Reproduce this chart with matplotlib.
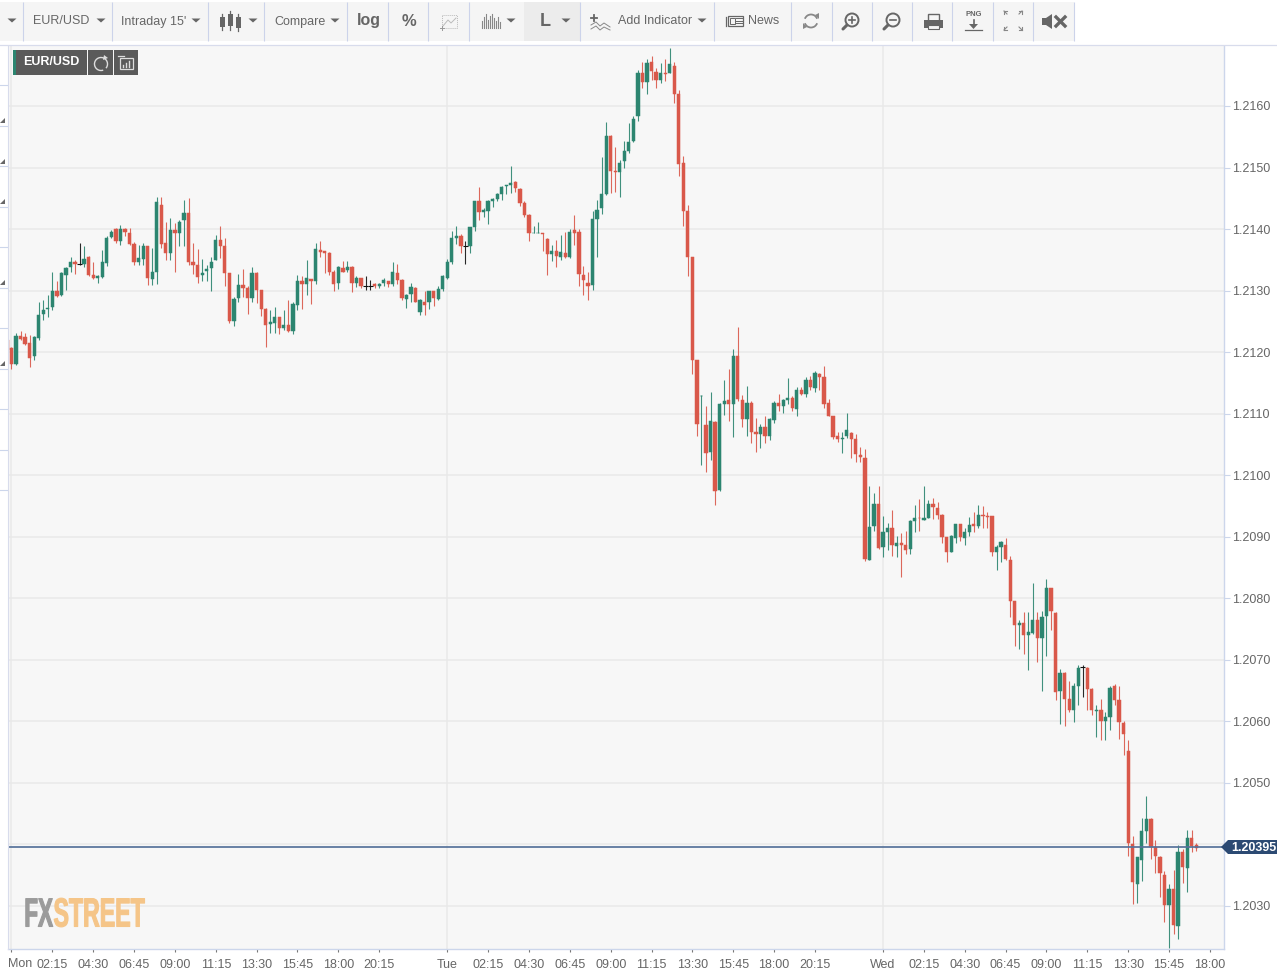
import numpy as np
import matplotlib
matplotlib.use("Agg")
import matplotlib.pyplot as plt
import matplotlib.patheffects as pe
from matplotlib.patches import Rectangle, Polygon, Circle, Arc
from matplotlib.transforms import Affine2D

plt.rcParams['font.family'] = ['Liberation Sans', 'DejaVu Sans']

# ---------- data: 15-minute EUR/USD candles ----------
highs = [
1.21226,1.21209,1.21231,1.21235,1.21231,1.21228,1.21226,1.21281,1.21285,1.21293,
1.21331,1.21315,1.21331,1.21339,1.21354,1.21350,1.21378,1.21372,1.21357,1.21347,
1.21325,1.21366,1.21389,1.21399,1.21402,1.21406,1.21402,1.21401,1.21379,1.21374,
1.21378,1.21372,1.21369,1.21452,1.21452,1.21412,1.21418,1.21410,1.21415,1.21448,
1.21450,1.21377,1.21367,1.21351,1.21342,1.21355,1.21391,1.21405,1.21386,1.21329,
1.21290,1.21327,1.21335,1.21308,1.21339,1.21331,1.21301,1.21272,1.21269,1.21273,
1.21257,1.21269,1.21285,1.21281,1.21326,1.21324,1.21349,1.21319,1.21377,1.21381,
1.21365,1.21362,1.21333,1.21340,1.21348,1.21348,1.21340,1.21323,1.21321,1.21323,
1.21317,1.21312,1.21312,1.21320,1.21316,1.21346,1.21344,1.21319,1.21294,1.21313,
1.21306,1.21286,1.21300,1.21300,1.21300,1.21307,1.21326,1.21351,1.21397,1.21405,
1.21392,1.21381,1.21404,1.21446,1.21469,1.21435,1.21447,1.21450,1.21458,1.21470,
1.21471,1.21503,1.21478,1.21466,1.21445,1.21425,1.21405,1.21411,1.21394,1.21385,
1.21374,1.21383,1.21390,1.21396,1.21400,1.21423,1.21400,1.21340,1.21330,1.21430,
1.21447,1.21517,1.21574,1.21553,1.21534,1.21513,1.21543,1.21573,1.21584,1.21659,
1.21672,1.21676,1.21681,1.21661,1.21670,1.21676,1.21695,1.21672,1.21626,1.21519,
1.21439,1.21354,1.21188,1.21131,1.21112,1.21135,1.21088,1.21117,1.21154,1.21172,
1.21205,1.21241,1.21131,1.21145,1.21120,1.21093,1.21084,1.21096,1.21093,1.21120,
1.21132,1.21124,1.21158,1.21128,1.21144,1.21144,1.21159,1.21161,1.21169,1.21166,
1.21178,1.21124,1.21097,1.21070,1.21070,1.21101,1.21071,1.21067,
1.21046,1.21043,1.20983,1.20971,1.20983,1.20933,1.20923,1.20943,1.20902,1.20906,
1.20910,1.20927,1.20952,1.20961,1.20983,1.20959,1.20963,1.20956,1.20937,1.20899,
1.20903,1.20921,1.20921,1.20914,1.20932,1.20941,1.20952,1.20950,1.20940,1.20934,
1.20886,1.20893,1.20898,1.20868,1.20796,1.20764,1.20778,1.20778,1.20825,1.20778,
1.20780,1.20832,1.20817,1.20778,
1.20685,1.20680,1.20665,1.20662,1.20692,1.20692,1.20688,1.20655,1.20626,1.20637,
1.20615,1.20658,1.20660,1.20658,1.20600,1.20569,1.20413,1.20380,1.20443,1.20478,
1.20443,1.20407,1.20382,1.20357,1.20335,1.20358,1.20399,1.20393,1.20423,1.20423,1.20402]

body_tops = [
1.21220,1.21207,1.21226,1.21226,1.21225,1.21215,1.21225,1.21261,1.21268,1.21272,
1.21300,1.21300,1.21328,1.21336,1.21347,1.21347,1.21343,1.21351,1.21354,1.21326,
1.21323,1.21346,1.21386,1.21396,1.21400,1.21400,1.21400,1.21393,1.21376,1.21353,
1.21372,1.21372,1.21331,1.21444,1.21439,1.21377,1.21399,1.21399,1.21412,1.21426,
1.21426,1.21346,1.21342,1.21329,1.21335,1.21347,1.21382,1.21382,1.21372,1.21328,
1.21286,1.21309,1.21309,1.21304,1.21329,1.21328,1.21301,1.21270,1.21249,1.21257,
1.21257,1.21244,1.21244,1.21279,1.21315,1.21315,1.21320,1.21319,1.21367,1.21366,
1.21364,1.21361,1.21331,1.21338,1.21337,1.21339,1.21339,1.21320,1.21320,1.21308,
1.21308,1.21311,1.21310,1.21317,1.21315,1.21330,1.21328,1.21317,1.21293,1.21306,
1.21304,1.21285,1.21282,1.21299,1.21299,1.21302,1.21323,1.21346,1.21385,1.21389,
1.21388,1.21372,1.21404,1.21445,1.21445,1.21431,1.21445,1.21449,1.21457,1.21469,
1.21471,1.21475,1.21477,1.21465,1.21443,1.21423,1.21394,1.21394,1.21393,1.21384,
1.21364,1.21364,1.21362,1.21361,1.21396,1.21399,1.21396,1.21326,1.21312,1.21417,
1.21431,1.21457,1.21551,1.21551,1.21494,1.21508,1.21527,1.21541,1.21579,1.21654,
1.21654,1.21670,1.21672,1.21656,1.21654,1.21654,1.21668,1.21665,1.21619,1.21508,
1.21429,1.21354,1.21188,1.21129,1.21082,1.21088,1.21087,1.21115,1.21120,1.21122,
1.21194,1.21194,1.21123,1.21117,1.21117,1.21070,1.21079,1.21079,1.21091,1.21118,
1.21117,1.21123,1.21125,1.21125,1.21139,1.21139,1.21154,1.21155,1.21166,1.21164,
1.21159,1.21117,1.21097,1.21063,1.21060,1.21074,1.21069,1.21059,
1.21033,1.21028,1.20916,1.20953,1.20953,1.20907,1.20914,1.20914,1.20890,1.20890,
1.20886,1.20926,1.20931,1.20931,1.20931,1.20953,1.20953,1.20946,1.20936,1.20899,
1.20901,1.20921,1.20921,1.20907,1.20919,1.20921,1.20936,1.20936,1.20934,1.20933,
1.20884,1.20891,1.20886,1.20862,1.20795,1.20760,1.20760,1.20745,1.20764,1.20764,
1.20769,1.20817,1.20817,1.20776,
1.20678,1.20678,1.20637,1.20658,1.20687,1.20689,1.20686,1.20653,1.20619,1.20619,
1.20607,1.20655,1.20658,1.20634,1.20598,1.20552,1.20401,1.20379,1.20422,1.20441,
1.20442,1.20396,1.20379,1.20351,1.20328,1.20328,1.20388,1.20388,1.20411,1.20411,1.20399]

body_bottoms = [
1.21204,1.21180,1.21181,1.21221,1.21214,1.21190,1.21194,1.21223,1.21262,1.21270,
1.21273,1.21292,1.21293,1.21326,1.21338,1.21344,1.21343,1.21344,1.21326,1.21320,
1.21320,1.21322,1.21345,1.21387,1.21381,1.21381,1.21396,1.21376,1.21347,1.21347,
1.21352,1.21320,1.21319,1.21331,1.21375,1.21361,1.21361,1.21394,1.21393,1.21414,
1.21346,1.21341,1.21322,1.21326,1.21332,1.21336,1.21350,1.21372,1.21329,1.21250,
1.21250,1.21288,1.21304,1.21288,1.21288,1.21301,1.21270,1.21244,1.21246,1.21247,
1.21239,1.21239,1.21235,1.21234,1.21277,1.21311,1.21311,1.21315,1.21315,1.21363,
1.21361,1.21330,1.21311,1.21312,1.21330,1.21333,1.21312,1.21313,1.21308,1.21308,
1.21308,1.21307,1.21308,1.21312,1.21311,1.21310,1.21318,1.21288,1.21287,1.21294,
1.21282,1.21265,1.21277,1.21281,1.21288,1.21286,1.21302,1.21321,1.21347,1.21385,
1.21372,1.21372,1.21372,1.21404,1.21427,1.21427,1.21429,1.21446,1.21449,1.21457,
1.21470,1.21471,1.21467,1.21443,1.21423,1.21394,1.21393,1.21393,1.21392,1.21359,
1.21359,1.21356,1.21355,1.21355,1.21355,1.21393,1.21327,1.21317,1.21308,1.21309,
1.21417,1.21434,1.21457,1.21495,1.21493,1.21492,1.21511,1.21527,1.21543,1.21584,
1.21639,1.21639,1.21657,1.21642,1.21643,1.21652,1.21654,1.21619,1.21505,1.21430,
1.21354,1.21188,1.21084,1.21128,1.21036,1.21038,1.20974,1.20976,1.21115,1.21115,
1.21115,1.21124,1.21091,1.21092,1.21070,1.21067,1.21067,1.21063,1.21063,1.21090,
1.21113,1.21113,1.21123,1.21109,1.21108,1.21132,1.21132,1.21143,1.21142,1.21159,
1.21116,1.21097,1.21062,1.21059,1.21059,1.21063,1.21059,1.21034,
1.21029,1.20864,1.20863,1.20918,1.20881,1.20883,1.20908,1.20887,1.20885,1.20887,
1.20879,1.20880,1.20926,1.20930,1.20928,1.20931,1.20949,1.20936,1.20899,1.20876,
1.20875,1.20898,1.20899,1.20898,1.20908,1.20918,1.20918,1.20934,1.20932,1.20876,
1.20876,1.20884,1.20864,1.20796,1.20756,1.20756,1.20741,1.20741,1.20743,1.20736,
1.20736,1.20772,1.20779,1.20648,
1.20649,1.20637,1.20618,1.20619,1.20658,1.20688,1.20653,1.20618,1.20617,1.20600,
1.20600,1.20607,1.20634,1.20599,1.20579,1.20403,1.20339,1.20335,1.20374,1.20422,
1.20396,1.20381,1.20353,1.20301,1.20301,1.20269,1.20268,1.20363,1.20362,1.20397,1.20395]

lows = [
1.21199,1.21173,1.21179,1.21219,1.21212,1.21176,1.21187,1.21220,1.21252,1.21257,
1.21269,1.21289,1.21292,1.21301,1.21331,1.21327,1.21342,1.21339,1.21324,1.21319,
1.21312,1.21320,1.21340,1.21385,1.21378,1.21374,1.21388,1.21374,1.21342,1.21342,
1.21342,1.21309,1.21309,1.21311,1.21369,1.21350,1.21349,1.21331,1.21373,1.21373,
1.21342,1.21327,1.21312,1.21315,1.21315,1.21300,1.21349,1.21353,1.21308,1.21248,
1.21242,1.21282,1.21290,1.21262,1.21282,1.21280,1.21258,1.21209,1.21231,1.21231,
1.21229,1.21236,1.21233,1.21229,1.21269,1.21270,1.21293,1.21279,1.21311,1.21354,
1.21328,1.21326,1.21299,1.21302,1.21330,1.21331,1.21297,1.21306,1.21304,1.21301,
1.21301,1.21304,1.21304,1.21308,1.21306,1.21308,1.21311,1.21285,1.21272,1.21281,
1.21281,1.21260,1.21261,1.21270,1.21275,1.21285,1.21300,1.21319,1.21343,1.21376,
1.21361,1.21344,1.21361,1.21397,1.21414,1.21419,1.21409,1.21436,1.21445,1.21447,
1.21457,1.21458,1.21460,1.21438,1.21420,1.21381,1.21393,1.21393,1.21365,1.21326,
1.21348,1.21339,1.21350,1.21353,1.21353,1.21374,1.21308,1.21293,1.21285,1.21301,
1.21355,1.21425,1.21455,1.21459,1.21461,1.21452,1.21499,1.21524,1.21542,1.21576,
1.21629,1.21619,1.21643,1.21630,1.21638,1.21641,1.21653,1.21605,1.21486,1.21405,
1.21324,1.21164,1.21063,1.21017,1.21005,1.21025,1.20952,1.20974,1.21098,1.21088,
1.21062,1.21120,1.21079,1.21063,1.21053,1.21037,1.21044,1.21053,1.21058,1.21085,
1.21105,1.21101,1.21115,1.21105,1.21097,1.21131,1.21127,1.21139,1.21135,1.21139,
1.21109,1.21096,1.21059,1.21054,1.21036,1.21061,1.21028,1.21021,
1.21021,1.20861,1.20862,1.20910,1.20880,1.20867,1.20879,1.20868,1.20867,1.20834,
1.20872,1.20872,1.20907,1.20909,1.20928,1.20930,1.20929,1.20929,1.20890,1.20859,
1.20875,1.20890,1.20893,1.20887,1.20901,1.20908,1.20914,1.20914,1.20914,1.20868,
1.20846,1.20859,1.20862,1.20769,1.20723,1.20718,1.20710,1.20684,1.20742,1.20696,
1.20649,1.20707,1.20749,1.20634,
1.20596,1.20593,1.20615,1.20599,1.20626,1.20640,1.20618,1.20611,1.20575,1.20569,
1.20570,1.20586,1.20626,1.20572,1.20545,1.20382,1.20304,1.20305,1.20341,1.20402,
1.20377,1.20353,1.20315,1.20274,1.20231,1.20255,1.20247,1.20337,1.20323,1.20388,1.20389]

# g = up, r = down, k = unchanged (drawn black by the chart)
direction = (
"rrgrrrgggg" "grgggrkgrr" "ggggrgrrrg" "grggrrgrgg" "rrrggggrrr"
"ggrrgrrrgg" "rgrggrgrgr" "rrrgrgrgrk" "krggrgrrgg" "rgrgrggggg"
"rkggrggggg" "ggrrrrggrr" "grgrgrrrrg" "gggrrggggg" "rgrrgrgrrr"
"rrrgrgrggr" "grrgrrgrgg" "rggrgrgrgr" "rrrrggrr"
"rrggrggrgr" "rggrggrrrr" "ggrggrgrrr" "ggrrrgrggr" "ggrr"
"grrggkrrgr" "ggrrrrrggg" "rrrrgrgrgr" "r")

last_price = 1.20395
price_ticks = [1.2030, 1.2040, 1.2050, 1.2060, 1.2070, 1.2080, 1.2090, 1.2100,
               1.2110, 1.2120, 1.2130, 1.2140, 1.2150, 1.2160]
day_bars = [0, 96, 192]
time_bars = [9, 18, 27, 36, 45, 54, 63, 72, 81,
             96, 105, 114, 123, 132, 141, 150, 159, 168, 177,
             192, 201, 210, 219, 228, 237, 246, 255, 264]
time_labels = ["02:15", "04:30", "06:45", "09:00", "11:15", "13:30", "15:45", "18:00", "20:15",
               "Tue", "02:15", "04:30", "06:45", "09:00", "11:15", "13:30", "15:45", "18:00", "20:15",
               "Wed", "02:15", "04:30", "06:45", "09:00", "11:15", "13:30", "15:45", "18:00"]

assert len(highs) == len(lows) == len(body_tops) == len(body_bottoms) == len(direction)

GREEN, RED = "#2c8570", "#d9584a"
TXT = "#666666"
W, H = 1277, 972

fig = plt.figure(figsize=(W / 100, H / 100), dpi=100, facecolor="white")
L, R, T, B = 8, 1223.5, 46, 949
ax = fig.add_axes([L / W, (H - B) / H, (R - L) / W, (B - T) / H], zorder=1)
ax.set_facecolor("#f7f7f7")

bar_x = np.arange(len(highs)) - 1
colours = [{"g": GREEN, "r": RED, "k": "#111111"}[d] for d in direction]
hi, lo = np.array(highs), np.array(lows)
top, bot = np.array(body_tops), np.array(body_bottoms)

ax.set_xlim(-0.77, 267.0)
ax.set_ylim(1.202301, 1.216975)
ax.set_axisbelow(True)
ax.grid(False)
for p in price_ticks:
    ax.axhline(p, color="#e9e9e9", lw=1.1, zorder=0.5)
for d in day_bars:
    ax.axvline(d, color="#e9e9e9", lw=1.1, zorder=0.5)

ax.vlines(bar_x, lo, hi, colors=colours, lw=0.8, alpha=0.9, zorder=2)
is_body = np.array([d != "k" for d in direction])
ax.bar(bar_x[is_body], (top - bot)[is_body], bottom=bot[is_body], width=0.72,
       color=np.array(colours)[is_body], edgecolor=np.array(colours)[is_body], lw=0.35, zorder=3)
ax.hlines(top[~is_body], bar_x[~is_body] - 0.55, bar_x[~is_body] + 0.55, colors="#111111", lw=0.8, zorder=3)

ax.axhline(last_price + 0.000008, color="#56729a", lw=1.25, zorder=4)

ax.yaxis.tick_right()
ax.set_yticks(price_ticks)
ax.set_yticklabels([f"{p:.4f}" for p in price_ticks])
ax.set_xticks([0] + time_bars)
ax.set_xticklabels([""] + time_labels)
ax.tick_params(axis="y", length=4.2, width=0.8, color="#ccd6eb", pad=1.8, labelsize=9, labelcolor=TXT)
ax.tick_params(axis="x", length=2.4, width=0.8, color="#777777", pad=5, labelsize=9, labelcolor=TXT)
ax.spines["top"].set_visible(False)
ax.spines["left"].set_visible(False)
for s in ("right", "bottom"):
    ax.spines[s].set_color("#ccd6eb")
    ax.spines[s].set_linewidth(1.0)

# ---------- interface chrome, drawn in pixel coordinates ----------
ui = fig.add_axes([0, 0, 1, 1], zorder=5)
ui.set_xlim(0, W)
ui.set_ylim(H, 0)
ui.axis("off")
ui.patch.set_alpha(0)

ui.text(8, 963.5, "Mon", fontsize=9, color=TXT, ha="left", va="center")

# current price flag
ui.add_patch(Polygon([(1221, 847), (1228, 840), (1277, 840), (1277, 854), (1228, 854)],
                     closed=True, fc="#2c4a73", ec="none"))
ui.text(1254, 847.5, "1.20395", color="white", fontsize=9, fontweight="bold", ha="center", va="center")

# toolbar
ui.add_patch(Rectangle((0, 2), 1074, 39, fc="#f5f5f5", ec="none"))
ui.add_patch(Rectangle((524, 2), 56, 39, fc="#ececec", ec="none"))
for x in [23, 112, 208, 264, 347, 388, 428, 469, 580, 714, 791, 832, 872, 912, 952, 993, 1033, 1074]:
    ui.plot([x, x], [2, 41], color="#ccd3ea", lw=0.8, solid_capstyle="butt")


def caret(x, y=20.5, w=4.5, h=4):
    ui.add_patch(Polygon([(x - w, y - h / 2), (x + w, y - h / 2), (x, y + h / 2)], closed=True, fc=TXT, ec="none"))


for x in [12, 101, 196, 253, 335, 511, 566, 702]:
    caret(x)

ui.text(33, 21.5, "EUR/USD", fontsize=9, color=TXT, va="center")
ui.text(121, 21.5, "Intraday 15'", fontsize=9, color=TXT, va="center")
ui.text(274, 21.5, "Compare", fontsize=9, color=TXT, va="center")
ui.text(368.5, 21, "log", fontsize=11.5, color=TXT, fontweight="bold", ha="center", va="center")
ui.text(408.5, 21.5, "%", fontsize=12, color=TXT, fontweight="bold", ha="center", va="center")
ui.text(545, 21.5, "L", fontsize=13, color=TXT, fontweight="bold", ha="center", va="center")
ui.text(618, 21.5, "Add Indicator", fontsize=9, color=TXT, va="center")
ui.text(748, 21.5, "News", fontsize=9, color=TXT, va="center")
ui.text(973.5, 15, "PNG", fontsize=5.5, color=TXT, fontweight="bold", ha="center", va="center")

# candle icon
for x, y0, y1, w0, w1 in [(222, 17, 27, 14, 30), (230, 14, 26, 11, 30), (238, 17, 28, 14, 31)]:
    ui.plot([x, x], [w0, w1], color=TXT, lw=0.9)
    ui.add_patch(Rectangle((x - 2.5, y0), 5, y1 - y0, fc=TXT, ec="none"))

# selection icon
ui.add_patch(Rectangle((442, 15), 15, 13, fc="none", ec="#bbbbbb", lw=0.7, ls=(0, (1, 1))))
ui.plot([443, 448, 451, 456], [26, 20, 23, 18], color="#bbbbbb", lw=0.7)
ui.plot([440, 444], [28, 28], color="#999999", lw=0.7)
ui.plot([442, 442], [26, 30], color="#999999", lw=0.7)

# volume-style icon
for x, h_ in zip(range(482, 502, 2), [7, 11, 14, 8, 12, 14, 10, 7, 11, 6]):
    ui.plot([x, x], [28, 28 - h_], color="#888888", lw=0.8)

# add indicator icon
ui.plot([591, 597], [18, 18], color=TXT, lw=1.3)
ui.plot([594, 594], [15, 21], color=TXT, lw=1.3)
ui.plot([591, 596, 600, 604, 610], [25, 22, 26, 23, 27], color="#888888", lw=0.7)
ui.plot([591, 596, 600, 604, 610], [29, 26, 30, 27, 30], color="#888888", lw=0.7)

# news icon
ui.add_patch(Rectangle((728, 16), 15, 10, fc="none", ec=TXT, lw=0.9))
ui.plot([726, 726], [17, 26], color=TXT, lw=0.9)
ui.add_patch(Rectangle((730, 18), 4.5, 6, fc="none", ec=TXT, lw=0.7))
for y in (18.5, 21, 23.5):
    ui.plot([736, 741.5], [y, y], color=TXT, lw=0.7)

# refresh icon
ui.add_patch(Arc((811, 21), 13, 13, theta1=200, theta2=340, ec="#888888", lw=1.3))
ui.add_patch(Arc((811, 21), 13, 13, theta1=20, theta2=160, ec="#888888", lw=1.3))
ui.add_patch(Polygon([(815, 15), (819, 13), (819, 19)], closed=True, fc="#888888", ec="none"))
ui.add_patch(Polygon([(807, 27), (803, 29), (803, 23)], closed=True, fc="#888888", ec="none"))

# zoom icons
for cx, plus in [(852, True), (893, False)]:
    ui.add_patch(Circle((cx, 20), 6.5, fc="none", ec=TXT, lw=1.4))
    ui.plot([cx - 5, cx - 9], [25, 29], color=TXT, lw=2.2, solid_capstyle="round")
    ui.plot([cx - 3, cx + 3], [20, 20], color=TXT, lw=1.2)
    if plus:
        ui.plot([cx, cx], [17, 23], color=TXT, lw=1.2)

# printer icon
ui.add_patch(Rectangle((928, 14), 11, 7, fc="#f5f5f5", ec=TXT, lw=1))
ui.add_patch(Rectangle((924, 20), 19, 8, fc=TXT, ec="none"))
ui.add_patch(Rectangle((928, 25), 11, 4, fc="#f5f5f5", ec=TXT, lw=0.8))

# download arrow
ui.plot([973.5, 973.5], [20, 25], color=TXT, lw=1.2)
ui.add_patch(Polygon([(969, 24), (978, 24), (973.5, 29)], closed=True, fc=TXT, ec="none"))
ui.plot([965, 982], [30, 30], color=TXT, lw=0.9)

# fullscreen corners
for x, y, sx, sy in [(1004, 11, 1, 1), (1022, 11, -1, 1), (1004, 30, 1, -1), (1022, 30, -1, -1)]:
    ui.plot([x, x + 3 * sx], [y, y + 3 * sy], color="#888888", lw=0.8)
    ui.plot([x, x + 3 * sx], [y, y], color="#888888", lw=0.8)
    ui.plot([x, x], [y, y + 3 * sy], color="#888888", lw=0.8)

# speaker with cross
ui.add_patch(Polygon([(1042, 18), (1046, 18), (1052, 14), (1052, 29), (1046, 25), (1042, 25)],
                     closed=True, fc=TXT, ec="none"))
ui.plot([1056, 1065], [17, 26], color=TXT, lw=2.4)
ui.plot([1056, 1065], [26, 17], color=TXT, lw=2.4)

# top-left series label
ui.add_patch(Rectangle((13, 50), 74, 25, fc="#5a5a5a", ec="none"))
ui.add_patch(Rectangle((13, 50), 3, 25, fc="#2c8570", ec="none"))
ui.add_patch(Rectangle((88, 50), 25, 25, fc="#5a5a5a", ec="none"))
ui.add_patch(Rectangle((114, 50), 24, 25, fc="#5a5a5a", ec="none"))
ui.text(51, 62, "EUR/USD", color="white", fontsize=9, fontweight="bold", ha="center", va="center")
ui.add_patch(Arc((101, 64), 13, 13, theta1=-290, theta2=40, ec="#dddddd", lw=1.0))
ui.add_patch(Polygon([(104, 55), (108, 58), (103, 60)], closed=True, fc="#dddddd", ec="none"))
ui.add_patch(Rectangle((120, 58), 13, 11, fc="none", ec="#dddddd", lw=0.9))
ui.plot([118, 124], [56, 56], color="#dddddd", lw=0.9)
for x, y in [(123, 65), (126, 63), (129, 61)]:
    ui.plot([x, x], [y, 67], color="#dddddd", lw=1)

# left sidebar remains
ui.plot([7.5, 7.5], [46, 949], color="#d8dcec", lw=0.8)
for y in [85, 126, 166, 207, 247, 288, 328, 369, 409, 450, 490]:
    ui.plot([0, 7], [y, y], color="#ccd6eb", lw=0.8)
for y in [120, 161, 201, 282, 363]:
    ui.add_patch(Polygon([(0, y + 3), (5, y + 3), (5, y - 2)], closed=True, fc="#666666", ec="none"))
ui.plot([0, 1277], [45.5, 45.5], color="#d8dcec", lw=0.9)


# watermark: real text, drawn taller than its font
class Tall(pe.AbstractPathEffect):
    def __init__(self, sx, sy):
        super().__init__()
        self.sx, self.sy = sx, sy

    def draw_path(self, renderer, gc, tpath, affine, rgbFace=None):
        gc.set_linewidth(0.8)
        gc.set_foreground(rgbFace)
        renderer.draw_path(gc, tpath, Affine2D().scale(self.sx, self.sy) + affine, rgbFace)


ui.text(24.3, 926.5, "FX", fontsize=16.5, fontweight="bold", color="#9b9b9b", ha="left", va="baseline",
        path_effects=[Tall(0.98, 1.77)])
ui.text(53.5, 926.5, "STREET", fontsize=17, fontweight="bold", color="#f5c588", ha="left", va="baseline",
        path_effects=[Tall(0.98, 1.72)])

fig.savefig("out.png", dpi=100, facecolor="white")
